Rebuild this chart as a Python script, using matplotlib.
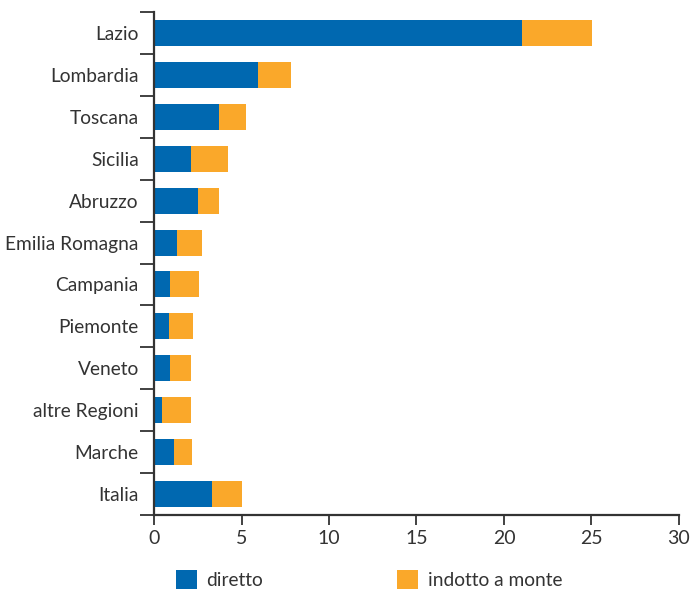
import numpy as np
import matplotlib
matplotlib.use("Agg")
import matplotlib.pyplot as plt
from matplotlib.ticker import FixedLocator

plt.rcParams['font.family'] = ['Lato', 'DejaVu Sans']

# Data
regions = ["Lazio", "Lombardia", "Toscana", "Sicilia", "Abruzzo", "Emilia Romagna",
           "Campania", "Piemonte", "Veneto", "altre Regioni", "Marche", "Italia"]
diretto = [21.0, 5.95, 3.7, 2.1, 2.5, 1.3, 0.9, 0.85, 0.9, 0.45, 1.15, 3.3]
totale = [25.05, 7.85, 5.25, 4.2, 3.7, 2.75, 2.6, 2.2, 2.1, 2.1, 2.15, 5.05]
indotto = [t - d for t, d in zip(totale, diretto)]

blue = "#0068b0"
orange = "#faa82a"
dark = "#333333"

fig = plt.figure(figsize=(6.91, 5.91), dpi=100)
ax = fig.add_axes([154 / 691, 1 - 515 / 591, 525 / 691, 503 / 591])

y = np.arange(len(regions))
h = 0.62
ax.barh(y, diretto, height=h, color=blue, label="diretto")
ax.barh(y, indotto, height=h, left=diretto, color=orange, label="indotto a monte")

ax.set_xlim(0, 30)
ax.set_ylim(len(regions) - 0.5, -0.5)
ax.set_xticks(np.arange(0, 31, 5))
ax.set_yticks(y)
ax.set_yticklabels(regions)
ax.yaxis.set_minor_locator(FixedLocator(np.arange(-0.5, len(regions), 1)))

for s in ["top", "right"]:
    ax.spines[s].set_visible(False)
for s in ["left", "bottom"]:
    ax.spines[s].set_color(dark)
    ax.spines[s].set_linewidth(1.6)

ax.tick_params(axis="y", which="major", length=0, pad=11, labelsize=13.8, labelcolor=dark)
ax.tick_params(axis="y", which="minor", length=10, width=1.3, color=dark)
ax.tick_params(axis="x", length=7, width=1.3, color=dark, labelsize=14, labelcolor=dark, pad=4)

fig.legend(loc="lower left", bbox_to_anchor=(164 / 691, -0.016), ncol=2, frameon=False,
           handlelength=1.1, handleheight=1.1, handletextpad=0.5, columnspacing=7.0,
           fontsize=13.8, labelcolor=dark, borderaxespad=0.2)

fig.savefig("out.png", dpi=100)
